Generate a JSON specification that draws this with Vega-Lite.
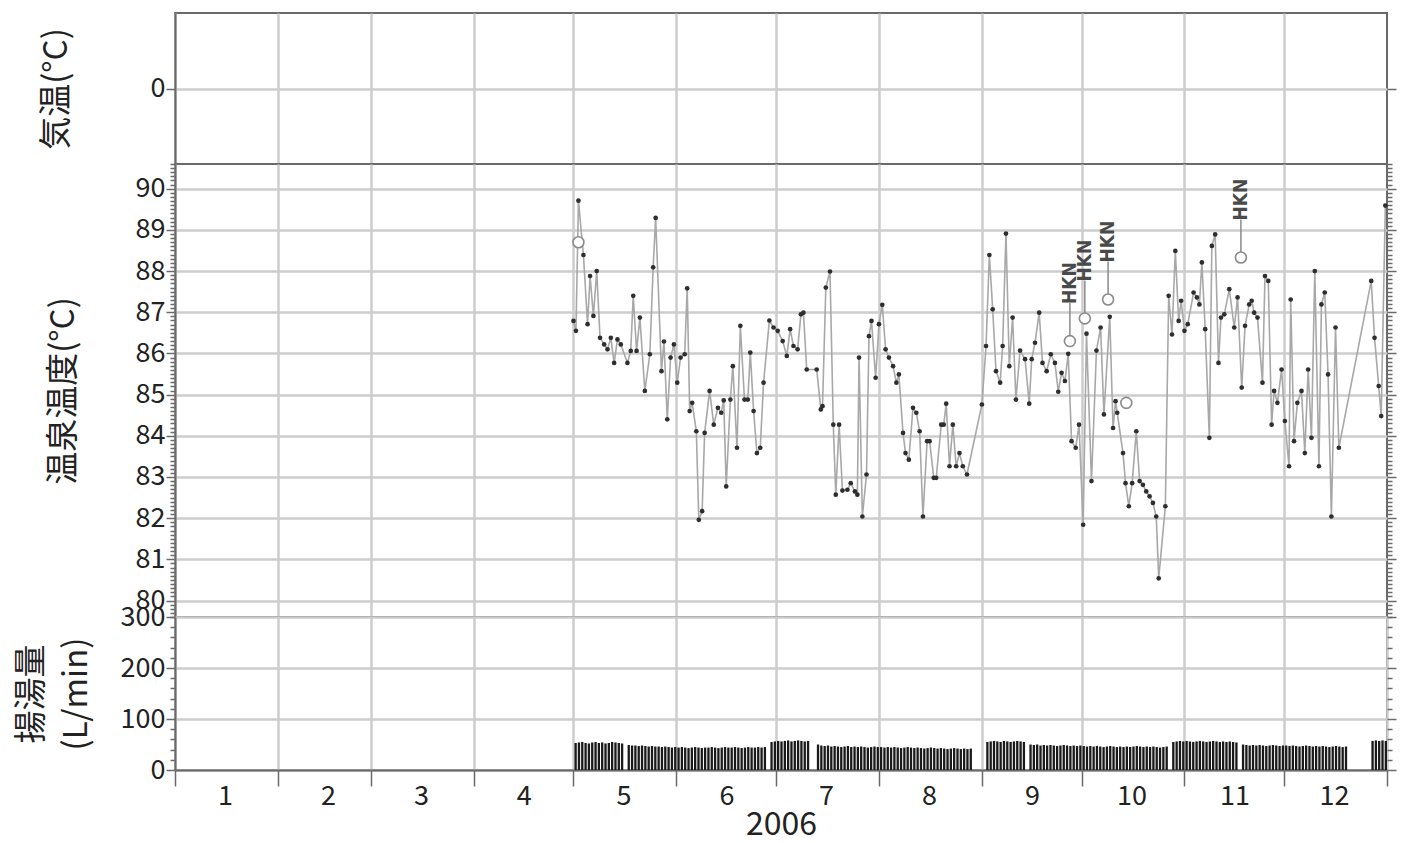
{
  "$schema": "https://vega.github.io/schema/vega-lite/v6.json",
  "background": "white",
  "padding": {"left": 14, "top": 12, "right": 10, "bottom": 4},
  "spacing": 0,
  "bounds": "flush",
  "datasets": {
    "temp": [
      {"date": "2006/05/01 00:00", "v": 86.79}, {"date": "2006/05/01 18:00", "v": 86.55}, {"date": "2006/05/02 12:00", "v": 89.71},
      {"date": "2006/05/04 00:00", "v": 88.39}, {"date": "2006/05/05 06:00", "v": 86.71}, {"date": "2006/05/06 00:00", "v": 87.88},
      {"date": "2006/05/07 00:00", "v": 86.91}, {"date": "2006/05/08 00:00", "v": 88.0}, {"date": "2006/05/09 00:00", "v": 86.38},
      {"date": "2006/05/10 06:00", "v": 86.22}, {"date": "2006/05/11 06:00", "v": 86.1}, {"date": "2006/05/12 06:00", "v": 86.38},
      {"date": "2006/05/13 06:00", "v": 85.77}, {"date": "2006/05/14 06:00", "v": 86.34}, {"date": "2006/05/15 06:00", "v": 86.22},
      {"date": "2006/05/17 06:00", "v": 85.77}, {"date": "2006/05/18 06:00", "v": 86.06}, {"date": "2006/05/19 00:00", "v": 87.4},
      {"date": "2006/05/20 00:00", "v": 86.06}, {"date": "2006/05/21 00:00", "v": 86.87}, {"date": "2006/05/22 12:00", "v": 85.09},
      {"date": "2006/05/24 00:00", "v": 85.98}, {"date": "2006/05/25 00:00", "v": 88.09}, {"date": "2006/05/25 18:00", "v": 89.29},
      {"date": "2006/05/27 12:00", "v": 85.57}, {"date": "2006/05/28 06:00", "v": 86.29}, {"date": "2006/05/29 06:00", "v": 84.4},
      {"date": "2006/05/30 06:00", "v": 85.9}, {"date": "2006/05/31 06:00", "v": 86.22}, {"date": "2006/06/01 06:00", "v": 85.29},
      {"date": "2006/06/02 06:00", "v": 85.9}, {"date": "2006/06/03 12:00", "v": 85.98}, {"date": "2006/06/04 06:00", "v": 87.58},
      {"date": "2006/06/05 00:00", "v": 84.6}, {"date": "2006/06/05 18:00", "v": 84.8}, {"date": "2006/06/07 00:00", "v": 84.11},
      {"date": "2006/06/07 18:00", "v": 81.96}, {"date": "2006/06/08 18:00", "v": 82.17}, {"date": "2006/06/09 12:00", "v": 84.07},
      {"date": "2006/06/11 00:00", "v": 85.09}, {"date": "2006/06/12 06:00", "v": 84.27}, {"date": "2006/06/13 12:00", "v": 84.68},
      {"date": "2006/06/14 12:00", "v": 84.56}, {"date": "2006/06/15 06:00", "v": 84.86}, {"date": "2006/06/16 00:00", "v": 82.77},
      {"date": "2006/06/17 06:00", "v": 84.88}, {"date": "2006/06/18 00:00", "v": 85.69}, {"date": "2006/06/19 06:00", "v": 83.71},
      {"date": "2006/06/20 06:00", "v": 86.67}, {"date": "2006/06/21 12:00", "v": 84.88}, {"date": "2006/06/22 12:00", "v": 84.88},
      {"date": "2006/06/23 06:00", "v": 86.02}, {"date": "2006/06/24 06:00", "v": 84.6}, {"date": "2006/06/25 06:00", "v": 83.58},
      {"date": "2006/06/26 06:00", "v": 83.71}, {"date": "2006/06/27 06:00", "v": 85.29}, {"date": "2006/06/29 00:00", "v": 86.8},
      {"date": "2006/06/30 06:00", "v": 86.63}, {"date": "2006/07/01 12:00", "v": 86.55}, {"date": "2006/07/03 00:00", "v": 86.3},
      {"date": "2006/07/04 06:00", "v": 85.94}, {"date": "2006/07/05 06:00", "v": 86.59}, {"date": "2006/07/06 06:00", "v": 86.18},
      {"date": "2006/07/07 12:00", "v": 86.1}, {"date": "2006/07/08 12:00", "v": 86.95}, {"date": "2006/07/09 06:00", "v": 86.99},
      {"date": "2006/07/10 06:00", "v": 85.61}, {"date": "2006/07/13 06:00", "v": 85.61}, {"date": "2006/07/14 12:00", "v": 84.64},
      {"date": "2006/07/15 00:00", "v": 84.72}, {"date": "2006/07/16 00:00", "v": 87.6}, {"date": "2006/07/17 06:00", "v": 87.99},
      {"date": "2006/07/18 06:00", "v": 84.27}, {"date": "2006/07/19 00:00", "v": 82.57}, {"date": "2006/07/20 00:00", "v": 84.27},
      {"date": "2006/07/21 00:00", "v": 82.67}, {"date": "2006/07/22 12:00", "v": 82.69}, {"date": "2006/07/23 12:00", "v": 82.85},
      {"date": "2006/07/24 18:00", "v": 82.65}, {"date": "2006/07/25 12:00", "v": 82.57}, {"date": "2006/07/26 00:00", "v": 85.9},
      {"date": "2006/07/27 00:00", "v": 82.04}, {"date": "2006/07/28 06:00", "v": 83.06}, {"date": "2006/07/29 00:00", "v": 86.42},
      {"date": "2006/07/29 18:00", "v": 86.79}, {"date": "2006/07/31 00:00", "v": 85.41}, {"date": "2006/08/01 00:00", "v": 86.71},
      {"date": "2006/08/02 00:00", "v": 87.18}, {"date": "2006/08/03 00:00", "v": 86.1}, {"date": "2006/08/04 00:00", "v": 85.9},
      {"date": "2006/08/05 06:00", "v": 85.69}, {"date": "2006/08/06 06:00", "v": 85.29}, {"date": "2006/08/07 00:00", "v": 85.49},
      {"date": "2006/08/08 06:00", "v": 84.07}, {"date": "2006/08/09 00:00", "v": 83.58}, {"date": "2006/08/10 00:00", "v": 83.42},
      {"date": "2006/08/11 06:00", "v": 84.68}, {"date": "2006/08/12 06:00", "v": 84.56}, {"date": "2006/08/13 06:00", "v": 84.11},
      {"date": "2006/08/14 06:00", "v": 82.04}, {"date": "2006/08/15 12:00", "v": 83.87}, {"date": "2006/08/16 06:00", "v": 83.87},
      {"date": "2006/08/17 12:00", "v": 82.98}, {"date": "2006/08/18 06:00", "v": 82.98}, {"date": "2006/08/19 18:00", "v": 84.27},
      {"date": "2006/08/20 12:00", "v": 84.27}, {"date": "2006/08/21 06:00", "v": 84.78}, {"date": "2006/08/22 06:00", "v": 83.26},
      {"date": "2006/08/23 06:00", "v": 84.27}, {"date": "2006/08/24 06:00", "v": 83.26}, {"date": "2006/08/25 06:00", "v": 83.58},
      {"date": "2006/08/26 06:00", "v": 83.26}, {"date": "2006/08/27 12:00", "v": 83.06}, {"date": "2006/09/01 00:00", "v": 84.76},
      {"date": "2006/09/02 06:00", "v": 86.18}, {"date": "2006/09/03 06:00", "v": 88.39}, {"date": "2006/09/04 06:00", "v": 87.07},
      {"date": "2006/09/05 06:00", "v": 85.57}, {"date": "2006/09/06 12:00", "v": 85.29}, {"date": "2006/09/07 06:00", "v": 86.18},
      {"date": "2006/09/08 06:00", "v": 88.91}, {"date": "2006/09/09 06:00", "v": 85.69}, {"date": "2006/09/10 06:00", "v": 86.87},
      {"date": "2006/09/11 06:00", "v": 84.88}, {"date": "2006/09/12 12:00", "v": 86.07}, {"date": "2006/09/14 00:00", "v": 85.86},
      {"date": "2006/09/15 06:00", "v": 84.78}, {"date": "2006/09/16 00:00", "v": 85.86}, {"date": "2006/09/17 00:00", "v": 86.26},
      {"date": "2006/09/18 06:00", "v": 86.99}, {"date": "2006/09/19 06:00", "v": 85.77}, {"date": "2006/09/20 12:00", "v": 85.57},
      {"date": "2006/09/21 18:00", "v": 85.98}, {"date": "2006/09/23 00:00", "v": 85.77}, {"date": "2006/09/24 00:00", "v": 85.07},
      {"date": "2006/09/25 00:00", "v": 85.53}, {"date": "2006/09/26 00:00", "v": 85.33}, {"date": "2006/09/27 00:00", "v": 85.99},
      {"date": "2006/09/28 00:00", "v": 83.87}, {"date": "2006/09/29 06:00", "v": 83.71}, {"date": "2006/09/30 06:00", "v": 84.27},
      {"date": "2006/10/01 12:00", "v": 81.84}, {"date": "2006/10/02 12:00", "v": 86.48}, {"date": "2006/10/04 00:00", "v": 82.9},
      {"date": "2006/10/05 12:00", "v": 86.07}, {"date": "2006/10/06 18:00", "v": 86.63}, {"date": "2006/10/07 18:00", "v": 84.52},
      {"date": "2006/10/09 12:00", "v": 86.89}, {"date": "2006/10/10 12:00", "v": 84.19}, {"date": "2006/10/11 06:00", "v": 84.84},
      {"date": "2006/10/11 18:00", "v": 84.56}, {"date": "2006/10/13 12:00", "v": 83.58}, {"date": "2006/10/14 06:00", "v": 82.85},
      {"date": "2006/10/15 06:00", "v": 82.29}, {"date": "2006/10/16 06:00", "v": 82.85}, {"date": "2006/10/17 12:00", "v": 84.11},
      {"date": "2006/10/18 12:00", "v": 82.9}, {"date": "2006/10/19 12:00", "v": 82.81}, {"date": "2006/10/20 12:00", "v": 82.65},
      {"date": "2006/10/21 12:00", "v": 82.53}, {"date": "2006/10/22 12:00", "v": 82.37}, {"date": "2006/10/23 12:00", "v": 82.04},
      {"date": "2006/10/24 06:00", "v": 80.54}, {"date": "2006/10/26 06:00", "v": 82.29}, {"date": "2006/10/27 06:00", "v": 87.4},
      {"date": "2006/10/28 06:00", "v": 86.46}, {"date": "2006/10/29 06:00", "v": 88.49}, {"date": "2006/10/30 06:00", "v": 86.79},
      {"date": "2006/10/31 00:00", "v": 87.28}, {"date": "2006/11/01 00:00", "v": 86.55}, {"date": "2006/11/02 00:00", "v": 86.71},
      {"date": "2006/11/03 18:00", "v": 87.48}, {"date": "2006/11/04 18:00", "v": 87.36}, {"date": "2006/11/05 12:00", "v": 87.19},
      {"date": "2006/11/06 06:00", "v": 88.21}, {"date": "2006/11/07 06:00", "v": 86.59}, {"date": "2006/11/08 12:00", "v": 83.95},
      {"date": "2006/11/09 06:00", "v": 88.61}, {"date": "2006/11/10 06:00", "v": 88.89}, {"date": "2006/11/11 06:00", "v": 85.77},
      {"date": "2006/11/12 00:00", "v": 86.87}, {"date": "2006/11/13 00:00", "v": 86.95}, {"date": "2006/11/14 12:00", "v": 87.56},
      {"date": "2006/11/16 00:00", "v": 86.63}, {"date": "2006/11/17 00:00", "v": 87.36}, {"date": "2006/11/18 06:00", "v": 85.17},
      {"date": "2006/11/19 06:00", "v": 86.67}, {"date": "2006/11/20 12:00", "v": 87.19}, {"date": "2006/11/21 06:00", "v": 87.28},
      {"date": "2006/11/22 00:00", "v": 86.99}, {"date": "2006/11/23 00:00", "v": 86.87}, {"date": "2006/11/24 12:00", "v": 85.29},
      {"date": "2006/11/25 06:00", "v": 87.88}, {"date": "2006/11/26 06:00", "v": 87.76}, {"date": "2006/11/27 06:00", "v": 84.27},
      {"date": "2006/11/28 00:00", "v": 85.09}, {"date": "2006/11/29 00:00", "v": 84.8}, {"date": "2006/11/30 06:00", "v": 85.61},
      {"date": "2006/12/01 06:00", "v": 84.36}, {"date": "2006/12/02 12:00", "v": 83.26}, {"date": "2006/12/03 00:00", "v": 87.31},
      {"date": "2006/12/04 00:00", "v": 83.87}, {"date": "2006/12/05 00:00", "v": 84.8}, {"date": "2006/12/06 06:00", "v": 85.09},
      {"date": "2006/12/07 06:00", "v": 83.58}, {"date": "2006/12/08 06:00", "v": 85.61}, {"date": "2006/12/09 06:00", "v": 83.95},
      {"date": "2006/12/10 06:00", "v": 88.0}, {"date": "2006/12/11 12:00", "v": 83.26}, {"date": "2006/12/12 06:00", "v": 87.19},
      {"date": "2006/12/13 06:00", "v": 87.48}, {"date": "2006/12/14 06:00", "v": 85.49}, {"date": "2006/12/15 06:00", "v": 82.04},
      {"date": "2006/12/16 12:00", "v": 86.63}, {"date": "2006/12/17 12:00", "v": 83.71}, {"date": "2006/12/27 06:00", "v": 87.76},
      {"date": "2006/12/28 06:00", "v": 86.38}, {"date": "2006/12/29 12:00", "v": 85.21}, {"date": "2006/12/30 06:00", "v": 84.48},
      {"date": "2006/12/31 12:00", "v": 89.59}
    ],
    "hkn": [
      {"date": "2006/05/02 12:00", "v": 88.7, "label": ""},
      {"date": "2006/09/27 12:00", "v": 86.3, "label": "HKN"},
      {"date": "2006/10/02 00:00", "v": 86.85, "label": "HKN"},
      {"date": "2006/10/09 00:00", "v": 87.31, "label": "HKN"},
      {"date": "2006/10/14 12:00", "v": 84.8, "label": ""},
      {"date": "2006/11/18 00:00", "v": 88.33, "label": "HKN"}
    ],
    "flow": [
      {"date": "2006/05/01", "q": 53}, {"date": "2006/05/02", "q": 54}, {"date": "2006/05/03", "q": 55}, {"date": "2006/05/04", "q": 53},
      {"date": "2006/05/05", "q": 52}, {"date": "2006/05/06", "q": 54}, {"date": "2006/05/07", "q": 55}, {"date": "2006/05/08", "q": 53},
      {"date": "2006/05/09", "q": 54}, {"date": "2006/05/10", "q": 52}, {"date": "2006/05/11", "q": 53}, {"date": "2006/05/12", "q": 55},
      {"date": "2006/05/13", "q": 54}, {"date": "2006/05/14", "q": 53}, {"date": "2006/05/15", "q": 52},
      {"date": "2006/05/17", "q": 49}, {"date": "2006/05/18", "q": 48}, {"date": "2006/05/19", "q": 48}, {"date": "2006/05/20", "q": 47},
      {"date": "2006/05/21", "q": 48}, {"date": "2006/05/22", "q": 47}, {"date": "2006/05/23", "q": 46}, {"date": "2006/05/24", "q": 47},
      {"date": "2006/05/25", "q": 46}, {"date": "2006/05/26", "q": 46}, {"date": "2006/05/27", "q": 45}, {"date": "2006/05/28", "q": 46},
      {"date": "2006/05/29", "q": 45}, {"date": "2006/05/30", "q": 44}, {"date": "2006/05/31", "q": 45},
      {"date": "2006/06/01", "q": 44}, {"date": "2006/06/02", "q": 45}, {"date": "2006/06/03", "q": 44}, {"date": "2006/06/04", "q": 43},
      {"date": "2006/06/05", "q": 44}, {"date": "2006/06/06", "q": 45}, {"date": "2006/06/07", "q": 44}, {"date": "2006/06/08", "q": 43},
      {"date": "2006/06/09", "q": 44}, {"date": "2006/06/10", "q": 44}, {"date": "2006/06/11", "q": 45}, {"date": "2006/06/12", "q": 44},
      {"date": "2006/06/13", "q": 43}, {"date": "2006/06/14", "q": 44}, {"date": "2006/06/15", "q": 45}, {"date": "2006/06/16", "q": 44},
      {"date": "2006/06/17", "q": 44}, {"date": "2006/06/18", "q": 45}, {"date": "2006/06/19", "q": 44}, {"date": "2006/06/20", "q": 43},
      {"date": "2006/06/21", "q": 44}, {"date": "2006/06/22", "q": 45}, {"date": "2006/06/23", "q": 44}, {"date": "2006/06/24", "q": 44},
      {"date": "2006/06/25", "q": 45}, {"date": "2006/06/26", "q": 44}, {"date": "2006/06/27", "q": 45},
      {"date": "2006/06/29", "q": 55}, {"date": "2006/06/30", "q": 56}, {"date": "2006/07/01", "q": 57}, {"date": "2006/07/02", "q": 56},
      {"date": "2006/07/03", "q": 57}, {"date": "2006/07/04", "q": 58}, {"date": "2006/07/05", "q": 56}, {"date": "2006/07/06", "q": 57},
      {"date": "2006/07/07", "q": 58}, {"date": "2006/07/08", "q": 57}, {"date": "2006/07/09", "q": 56}, {"date": "2006/07/10", "q": 57},
      {"date": "2006/07/13", "q": 50}, {"date": "2006/07/14", "q": 48}, {"date": "2006/07/15", "q": 47}, {"date": "2006/07/16", "q": 48},
      {"date": "2006/07/17", "q": 46}, {"date": "2006/07/18", "q": 47}, {"date": "2006/07/19", "q": 46}, {"date": "2006/07/20", "q": 45},
      {"date": "2006/07/21", "q": 46}, {"date": "2006/07/22", "q": 47}, {"date": "2006/07/23", "q": 45}, {"date": "2006/07/24", "q": 46},
      {"date": "2006/07/25", "q": 45}, {"date": "2006/07/26", "q": 46}, {"date": "2006/07/27", "q": 45}, {"date": "2006/07/28", "q": 44},
      {"date": "2006/07/29", "q": 45}, {"date": "2006/07/30", "q": 46}, {"date": "2006/07/31", "q": 45},
      {"date": "2006/08/01", "q": 45}, {"date": "2006/08/02", "q": 44}, {"date": "2006/08/03", "q": 45}, {"date": "2006/08/04", "q": 44},
      {"date": "2006/08/05", "q": 45}, {"date": "2006/08/06", "q": 44}, {"date": "2006/08/07", "q": 43}, {"date": "2006/08/08", "q": 44},
      {"date": "2006/08/09", "q": 45}, {"date": "2006/08/10", "q": 44}, {"date": "2006/08/11", "q": 43}, {"date": "2006/08/12", "q": 44},
      {"date": "2006/08/13", "q": 43}, {"date": "2006/08/14", "q": 42}, {"date": "2006/08/15", "q": 43}, {"date": "2006/08/16", "q": 44},
      {"date": "2006/08/17", "q": 43}, {"date": "2006/08/18", "q": 42}, {"date": "2006/08/19", "q": 43}, {"date": "2006/08/20", "q": 42},
      {"date": "2006/08/21", "q": 41}, {"date": "2006/08/22", "q": 42}, {"date": "2006/08/23", "q": 43}, {"date": "2006/08/24", "q": 42},
      {"date": "2006/08/25", "q": 41}, {"date": "2006/08/26", "q": 42}, {"date": "2006/08/27", "q": 41}, {"date": "2006/08/28", "q": 42},
      {"date": "2006/09/02", "q": 55}, {"date": "2006/09/03", "q": 56}, {"date": "2006/09/04", "q": 57}, {"date": "2006/09/05", "q": 56},
      {"date": "2006/09/06", "q": 55}, {"date": "2006/09/07", "q": 57}, {"date": "2006/09/08", "q": 56}, {"date": "2006/09/09", "q": 55},
      {"date": "2006/09/10", "q": 56}, {"date": "2006/09/11", "q": 57}, {"date": "2006/09/12", "q": 56}, {"date": "2006/09/13", "q": 55},
      {"date": "2006/09/15", "q": 50}, {"date": "2006/09/16", "q": 49}, {"date": "2006/09/17", "q": 50}, {"date": "2006/09/18", "q": 48},
      {"date": "2006/09/19", "q": 49}, {"date": "2006/09/20", "q": 48}, {"date": "2006/09/21", "q": 49}, {"date": "2006/09/22", "q": 48},
      {"date": "2006/09/23", "q": 47}, {"date": "2006/09/24", "q": 48}, {"date": "2006/09/25", "q": 49}, {"date": "2006/09/26", "q": 48},
      {"date": "2006/09/27", "q": 47}, {"date": "2006/09/28", "q": 48}, {"date": "2006/09/29", "q": 47}, {"date": "2006/09/30", "q": 48},
      {"date": "2006/10/01", "q": 47}, {"date": "2006/10/02", "q": 46}, {"date": "2006/10/03", "q": 47}, {"date": "2006/10/04", "q": 46},
      {"date": "2006/10/05", "q": 47}, {"date": "2006/10/06", "q": 46}, {"date": "2006/10/07", "q": 45}, {"date": "2006/10/08", "q": 46},
      {"date": "2006/10/09", "q": 47}, {"date": "2006/10/10", "q": 46}, {"date": "2006/10/11", "q": 45}, {"date": "2006/10/12", "q": 46},
      {"date": "2006/10/13", "q": 45}, {"date": "2006/10/14", "q": 46}, {"date": "2006/10/15", "q": 45}, {"date": "2006/10/16", "q": 46},
      {"date": "2006/10/17", "q": 47}, {"date": "2006/10/18", "q": 46}, {"date": "2006/10/19", "q": 45}, {"date": "2006/10/20", "q": 46},
      {"date": "2006/10/21", "q": 45}, {"date": "2006/10/22", "q": 46}, {"date": "2006/10/23", "q": 45}, {"date": "2006/10/24", "q": 44},
      {"date": "2006/10/25", "q": 45}, {"date": "2006/10/26", "q": 46},
      {"date": "2006/10/28", "q": 55}, {"date": "2006/10/29", "q": 56}, {"date": "2006/10/30", "q": 57}, {"date": "2006/10/31", "q": 56},
      {"date": "2006/11/01", "q": 57}, {"date": "2006/11/02", "q": 56}, {"date": "2006/11/03", "q": 55}, {"date": "2006/11/04", "q": 56},
      {"date": "2006/11/05", "q": 57}, {"date": "2006/11/06", "q": 56}, {"date": "2006/11/07", "q": 55}, {"date": "2006/11/08", "q": 56},
      {"date": "2006/11/09", "q": 57}, {"date": "2006/11/10", "q": 56}, {"date": "2006/11/11", "q": 55}, {"date": "2006/11/12", "q": 56},
      {"date": "2006/11/13", "q": 55}, {"date": "2006/11/14", "q": 56}, {"date": "2006/11/15", "q": 55}, {"date": "2006/11/16", "q": 54},
      {"date": "2006/11/18", "q": 50}, {"date": "2006/11/19", "q": 49}, {"date": "2006/11/20", "q": 48}, {"date": "2006/11/21", "q": 49},
      {"date": "2006/11/22", "q": 48}, {"date": "2006/11/23", "q": 49}, {"date": "2006/11/24", "q": 48}, {"date": "2006/11/25", "q": 47},
      {"date": "2006/11/26", "q": 48}, {"date": "2006/11/27", "q": 49}, {"date": "2006/11/28", "q": 48}, {"date": "2006/11/29", "q": 47},
      {"date": "2006/11/30", "q": 48},
      {"date": "2006/12/01", "q": 48}, {"date": "2006/12/02", "q": 47}, {"date": "2006/12/03", "q": 48}, {"date": "2006/12/04", "q": 47},
      {"date": "2006/12/05", "q": 46}, {"date": "2006/12/06", "q": 47}, {"date": "2006/12/07", "q": 48}, {"date": "2006/12/08", "q": 47},
      {"date": "2006/12/09", "q": 46}, {"date": "2006/12/10", "q": 47}, {"date": "2006/12/11", "q": 46}, {"date": "2006/12/12", "q": 47},
      {"date": "2006/12/13", "q": 46}, {"date": "2006/12/14", "q": 45}, {"date": "2006/12/15", "q": 46}, {"date": "2006/12/16", "q": 47},
      {"date": "2006/12/17", "q": 46}, {"date": "2006/12/18", "q": 45}, {"date": "2006/12/19", "q": 46},
      {"date": "2006/12/27", "q": 57}, {"date": "2006/12/28", "q": 58}, {"date": "2006/12/29", "q": 57}, {"date": "2006/12/30", "q": 58},
      {"date": "2006/12/31", "q": 57}
    ]
  },
  "vconcat": [
    {
      "width": 1212,
      "height": 151,
      "layer": [
        {
          "data": {"values": []},
          "mark": {"type": "point"},
          "encoding": {
            "x": {
              "field": "date", "type": "temporal",
              "scale": {"domain": [{"year": 2006, "month": 1, "date": 1}, {"year": 2007, "month": 1, "date": 1}]},
              "axis": {
                "values": [
                  {"year": 2006, "month": 1, "date": 1}, {"year": 2006, "month": 2, "date": 1}, {"year": 2006, "month": 3, "date": 1},
                  {"year": 2006, "month": 4, "date": 1}, {"year": 2006, "month": 5, "date": 1}, {"year": 2006, "month": 6, "date": 1},
                  {"year": 2006, "month": 7, "date": 1}, {"year": 2006, "month": 8, "date": 1}, {"year": 2006, "month": 9, "date": 1},
                  {"year": 2006, "month": 10, "date": 1}, {"year": 2006, "month": 11, "date": 1}, {"year": 2006, "month": 12, "date": 1}
                ],
                "grid": true, "labels": false, "ticks": false, "domain": false, "title": null
              }
            },
            "y": {
              "field": "t", "type": "quantitative",
              "scale": {"domain": [-1, 1]},
              "axis": {
                "values": [0], "format": "d", "grid": true, "tickSize": 9,
                "title": "気温(°C)", "titleX": -119, "titleY": 75.5, "titleAngle": -90,
                "titleAlign": "center", "titleBaseline": "middle"
              }
            }
          }
        },
        {
          "data": {"values": []},
          "mark": {"type": "point"},
          "encoding": {
            "y": {
              "field": "t", "type": "quantitative",
              "scale": {"domain": [-1, 1]},
              "axis": {"orient": "right", "values": [0], "labels": false, "domain": false, "grid": false, "tickSize": 9, "title": null}
            }
          }
        }
      ],
      "resolve": {"axis": {"y": "independent"}}
    },
    {
      "width": 1212,
      "height": 453,
      "layer": [
        {
          "data": {"name": "temp"},
          "mark": {"type": "line", "color": "#a8a8a8", "strokeWidth": 1.6},
          "encoding": {
            "x": {
              "field": "date", "type": "temporal",
              "scale": {"domain": [{"year": 2006, "month": 1, "date": 1}, {"year": 2007, "month": 1, "date": 1}]},
              "axis": {
                "values": [
                  {"year": 2006, "month": 1, "date": 1}, {"year": 2006, "month": 2, "date": 1}, {"year": 2006, "month": 3, "date": 1},
                  {"year": 2006, "month": 4, "date": 1}, {"year": 2006, "month": 5, "date": 1}, {"year": 2006, "month": 6, "date": 1},
                  {"year": 2006, "month": 7, "date": 1}, {"year": 2006, "month": 8, "date": 1}, {"year": 2006, "month": 9, "date": 1},
                  {"year": 2006, "month": 10, "date": 1}, {"year": 2006, "month": 11, "date": 1}, {"year": 2006, "month": 12, "date": 1}
                ],
                "grid": true, "labels": false, "ticks": false, "domain": false, "title": null
              }
            },
            "y": {
              "field": "v", "type": "quantitative",
              "scale": {"domain": [79.6, 90.6], "nice": false, "zero": false},
              "axis": {
                "values": [79.6, 79.7, 79.8, 79.9, 80, 80.1, 80.2, 80.3, 80.4, 80.5, 80.6, 80.7, 80.8, 80.9,
                  81, 81.1, 81.2, 81.3, 81.4, 81.5, 81.6, 81.7, 81.8, 81.9, 82, 82.1, 82.2, 82.3, 82.4, 82.5, 82.6, 82.7, 82.8, 82.9,
                  83, 83.1, 83.2, 83.3, 83.4, 83.5, 83.6, 83.7, 83.8, 83.9, 84, 84.1, 84.2, 84.3, 84.4, 84.5, 84.6, 84.7, 84.8, 84.9,
                  85, 85.1, 85.2, 85.3, 85.4, 85.5, 85.6, 85.7, 85.8, 85.9, 86, 86.1, 86.2, 86.3, 86.4, 86.5, 86.6, 86.7, 86.8, 86.9,
                  87, 87.1, 87.2, 87.3, 87.4, 87.5, 87.6, 87.7, 87.8, 87.9, 88, 88.1, 88.2, 88.3, 88.4, 88.5, 88.6, 88.7, 88.8, 88.9,
                  89, 89.1, 89.2, 89.3, 89.4, 89.5, 89.6, 89.7, 89.8, 89.9, 90, 90.1, 90.2, 90.3, 90.4, 90.5, 90.6],
                "labelExpr": "abs(datum.value - round(datum.value)) < 0.001 ? format(datum.value, 'd') : ''",
                "labelOverlap": false,
                "tickSize": {"condition": {"test": "abs(datum.value - round(datum.value)) < 0.001", "value": 9}, "value": 5},
                "grid": true,
                "gridOpacity": {"condition": {"test": "abs(datum.value - round(datum.value)) < 0.001", "value": 1}, "value": 0},
                "title": "温泉温度(°C)", "titleX": -112, "titleY": 226.5, "titleAngle": -90,
                "titleAlign": "center", "titleBaseline": "middle"
              }
            }
          }
        },
        {
          "data": {"name": "temp"},
          "mark": {"type": "point", "filled": true, "size": 22, "color": "#2e2e2e", "opacity": 1},
          "encoding": {
            "x": {"field": "date", "type": "temporal"},
            "y": {
              "field": "v", "type": "quantitative",
              "axis": {
                "orient": "right",
                "values": [79.6, 79.7, 79.8, 79.9, 80, 80.1, 80.2, 80.3, 80.4, 80.5, 80.6, 80.7, 80.8, 80.9,
                  81, 81.1, 81.2, 81.3, 81.4, 81.5, 81.6, 81.7, 81.8, 81.9, 82, 82.1, 82.2, 82.3, 82.4, 82.5, 82.6, 82.7, 82.8, 82.9,
                  83, 83.1, 83.2, 83.3, 83.4, 83.5, 83.6, 83.7, 83.8, 83.9, 84, 84.1, 84.2, 84.3, 84.4, 84.5, 84.6, 84.7, 84.8, 84.9,
                  85, 85.1, 85.2, 85.3, 85.4, 85.5, 85.6, 85.7, 85.8, 85.9, 86, 86.1, 86.2, 86.3, 86.4, 86.5, 86.6, 86.7, 86.8, 86.9,
                  87, 87.1, 87.2, 87.3, 87.4, 87.5, 87.6, 87.7, 87.8, 87.9, 88, 88.1, 88.2, 88.3, 88.4, 88.5, 88.6, 88.7, 88.8, 88.9,
                  89, 89.1, 89.2, 89.3, 89.4, 89.5, 89.6, 89.7, 89.8, 89.9, 90, 90.1, 90.2, 90.3, 90.4, 90.5, 90.6],
                "labels": false, "domain": false, "grid": false, "title": null,
                "tickSize": {"condition": {"test": "abs(datum.value - round(datum.value)) < 0.001", "value": 9}, "value": 5}
              }
            }
          }
        },
        {
          "data": {"name": "hkn"},
          "transform": [{"filter": "datum.label != ''"}],
          "mark": {"type": "rule", "color": "#8a8a8a", "strokeWidth": 1.5, "y2Offset": -38},
          "encoding": {
            "x": {"field": "date", "type": "temporal"},
            "y": {"field": "v", "type": "quantitative", "axis": null},
            "y2": {"field": "v"}
          }
        },
        {
          "data": {"name": "hkn"},
          "mark": {"type": "point", "shape": "circle", "filled": true, "fill": "white", "stroke": "#8a8a8a", "strokeWidth": 1.6, "size": 120, "opacity": 1},
          "encoding": {
            "x": {"field": "date", "type": "temporal"},
            "y": {"field": "v", "type": "quantitative", "axis": null}
          }
        },
        {
          "data": {"name": "hkn"},
          "transform": [{"filter": "datum.label != ''"}],
          "mark": {"type": "text", "angle": 270, "align": "left", "baseline": "middle", "yOffset": -37, "fontSize": 19, "fontWeight": "bold", "font": "DejaVu Sans Condensed, DejaVu Sans", "color": "#4a4a4a"},
          "encoding": {
            "x": {"field": "date", "type": "temporal"},
            "y": {"field": "v", "type": "quantitative", "axis": null},
            "text": {"field": "label"}
          }
        }
      ],
      "resolve": {"axis": {"y": "independent"}}
    },
    {
      "width": 1212,
      "height": 153,
      "layer": [
        {
          "data": {"name": "flow"},
          "mark": {"type": "bar", "color": "#1a1a1a", "timeUnitBandSize": 0.9},
          "encoding": {
            "x": {
              "field": "date", "type": "temporal", "timeUnit": "yearmonthdate",
              "scale": {"domain": [{"year": 2006, "month": 1, "date": 1}, {"year": 2007, "month": 1, "date": 1}]},
              "axis": {
                "values": [
                  {"year": 2006, "month": 1, "date": 1}, {"year": 2006, "month": 2, "date": 1}, {"year": 2006, "month": 3, "date": 1},
                  {"year": 2006, "month": 4, "date": 1}, {"year": 2006, "month": 5, "date": 1}, {"year": 2006, "month": 6, "date": 1},
                  {"year": 2006, "month": 7, "date": 1}, {"year": 2006, "month": 8, "date": 1}, {"year": 2006, "month": 9, "date": 1},
                  {"year": 2006, "month": 10, "date": 1}, {"year": 2006, "month": 11, "date": 1}, {"year": 2006, "month": 12, "date": 1},
                  {"year": 2007, "month": 1, "date": 1}
                ],
                "labelExpr": "year(datum.value) > 2006 ? '' : timeFormat(datum.value, '%-m')",
                "labelOffset": 50, "labelPadding": -3, "labelOverlap": false, "labelFlush": false, "labelBound": false,
                "tickSize": 16, "grid": true,
                "title": "2006", "titleFontSize": 32, "titlePadding": 0
              }
            },
            "y": {
              "field": "q", "type": "quantitative",
              "scale": {"domain": [0, 300], "nice": false},
              "axis": {
                "values": [0, 20, 40, 60, 80, 100, 120, 140, 160, 180, 200, 220, 240, 260, 280, 300],
                "labelExpr": "datum.value % 100 == 0 ? format(datum.value, 'd') : ''",
                "labelOverlap": false,
                "tickSize": {"condition": {"test": "datum.value % 100 == 0", "value": 9}, "value": 5},
                "grid": true,
                "gridOpacity": {"condition": {"test": "datum.value % 100 == 0", "value": 1}, "value": 0},
                "title": ["揚湯量", "(L/min)"], "titleX": -144, "titleY": 76.5, "titleAngle": -90,
                "titleAlign": "center", "titleBaseline": "middle", "titleLineHeight": 45
              }
            }
          }
        },
        {
          "data": {"values": []},
          "mark": {"type": "point"},
          "encoding": {
            "y": {
              "field": "q", "type": "quantitative",
              "axis": {
                "orient": "right",
                "values": [0, 20, 40, 60, 80, 100, 120, 140, 160, 180, 200, 220, 240, 260, 280, 300],
                "labels": false, "domain": false, "grid": false, "title": null,
                "tickSize": {"condition": {"test": "datum.value % 100 == 0", "value": 9}, "value": 5}
              }
            }
          }
        }
      ],
      "resolve": {"axis": {"y": "independent"}}
    }
  ],
  "config": {
    "font": "Noto Sans CJK JP",
    "view": {"stroke": "#6a6a6a", "strokeWidth": 2},
    "axis": {
      "labelFont": "Noto Sans CJK JP",
      "labelFontSize": 27,
      "labelColor": "#222222",
      "labelPadding": 1,
      "titleFont": "Noto Sans CJK JP",
      "titleFontSize": 33,
      "titleFontWeight": "normal",
      "titleColor": "#222222",
      "domainColor": "#6a6a6a",
      "domainWidth": 2,
      "tickColor": "#6a6a6a",
      "tickWidth": 1.5,
      "gridColor": "#cdcdcd",
      "gridWidth": 2.5
    }
  }
}
